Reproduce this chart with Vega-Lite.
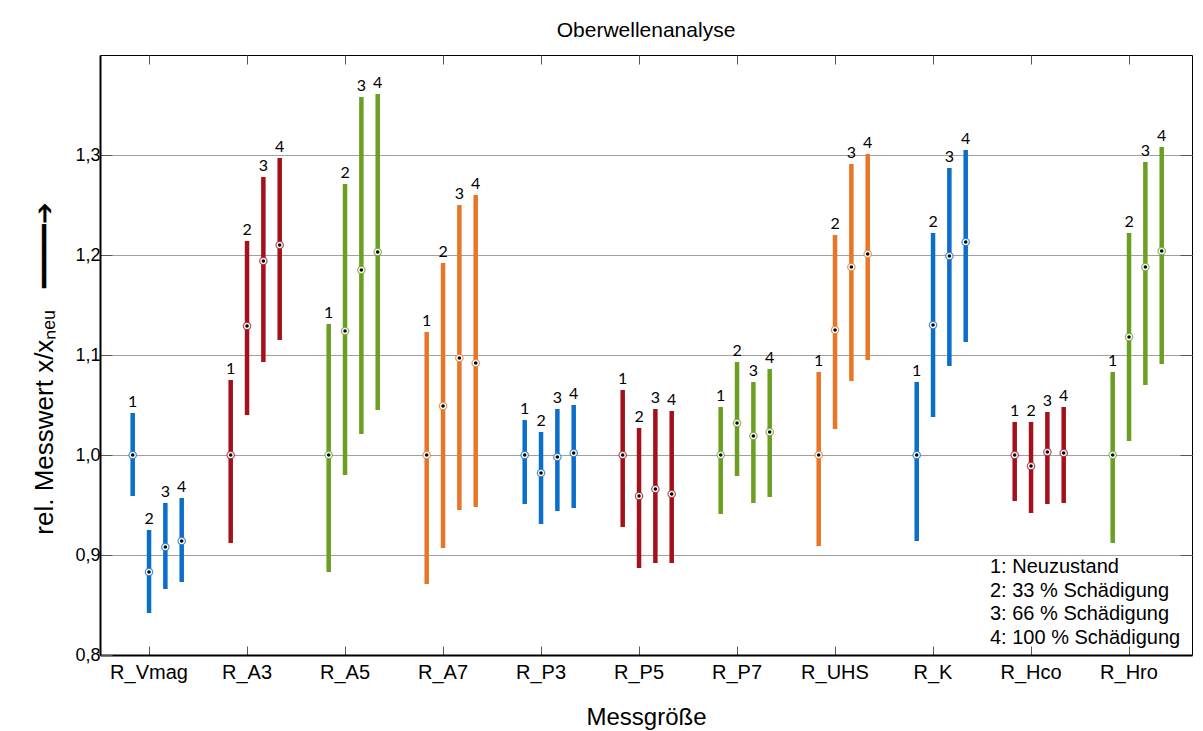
{
  "$schema": "https://vega.github.io/schema/vega-lite/v6.json",
  "width": 1092,
  "height": 600,
  "autosize": {"type": "none"},
  "padding": {"left": 100, "top": 55, "right": 11, "bottom": 76},
  "background": "white",
  "title": {"text": "Oberwellenanalyse", "font": "Liberation Sans", "fontSize": 21, "fontWeight": "normal", "color": "#000", "anchor": "middle", "offset": 14, "frame": "group"},
  "config": {"view": {"stroke": "#000", "strokeWidth": 1}, "font": "Liberation Sans"},
  "data": {"values": [
    {"g": "R_Vmag", "z": "1", "lo": 0.959, "hi": 1.042, "m": 1.0},
    {"g": "R_Vmag", "z": "2", "lo": 0.842, "hi": 0.925, "m": 0.883},
    {"g": "R_Vmag", "z": "3", "lo": 0.866, "hi": 0.952, "m": 0.908},
    {"g": "R_Vmag", "z": "4", "lo": 0.873, "hi": 0.957, "m": 0.914},
    {"g": "R_A3", "z": "1", "lo": 0.912, "hi": 1.075, "m": 1.0},
    {"g": "R_A3", "z": "2", "lo": 1.040, "hi": 1.214, "m": 1.129},
    {"g": "R_A3", "z": "3", "lo": 1.093, "hi": 1.278, "m": 1.194},
    {"g": "R_A3", "z": "4", "lo": 1.115, "hi": 1.297, "m": 1.210},
    {"g": "R_A5", "z": "1", "lo": 0.883, "hi": 1.131, "m": 1.0},
    {"g": "R_A5", "z": "2", "lo": 0.980, "hi": 1.271, "m": 1.124},
    {"g": "R_A5", "z": "3", "lo": 1.021, "hi": 1.358, "m": 1.185},
    {"g": "R_A5", "z": "4", "lo": 1.045, "hi": 1.361, "m": 1.203},
    {"g": "R_A7", "z": "1", "lo": 0.871, "hi": 1.123, "m": 1.0},
    {"g": "R_A7", "z": "2", "lo": 0.907, "hi": 1.192, "m": 1.049},
    {"g": "R_A7", "z": "3", "lo": 0.945, "hi": 1.250, "m": 1.097},
    {"g": "R_A7", "z": "4", "lo": 0.948, "hi": 1.260, "m": 1.092},
    {"g": "R_P3", "z": "1", "lo": 0.951, "hi": 1.035, "m": 1.0},
    {"g": "R_P3", "z": "2", "lo": 0.931, "hi": 1.023, "m": 0.982},
    {"g": "R_P3", "z": "3", "lo": 0.944, "hi": 1.046, "m": 0.998},
    {"g": "R_P3", "z": "4", "lo": 0.947, "hi": 1.050, "m": 1.002},
    {"g": "R_P5", "z": "1", "lo": 0.928, "hi": 1.065, "m": 1.0},
    {"g": "R_P5", "z": "2", "lo": 0.887, "hi": 1.027, "m": 0.959},
    {"g": "R_P5", "z": "3", "lo": 0.892, "hi": 1.046, "m": 0.966},
    {"g": "R_P5", "z": "4", "lo": 0.892, "hi": 1.044, "m": 0.961},
    {"g": "R_P7", "z": "1", "lo": 0.941, "hi": 1.048, "m": 1.0},
    {"g": "R_P7", "z": "2", "lo": 0.979, "hi": 1.093, "m": 1.032},
    {"g": "R_P7", "z": "3", "lo": 0.952, "hi": 1.073, "m": 1.019},
    {"g": "R_P7", "z": "4", "lo": 0.958, "hi": 1.086, "m": 1.023},
    {"g": "R_UHS", "z": "1", "lo": 0.909, "hi": 1.083, "m": 1.0},
    {"g": "R_UHS", "z": "2", "lo": 1.026, "hi": 1.220, "m": 1.125},
    {"g": "R_UHS", "z": "3", "lo": 1.074, "hi": 1.291, "m": 1.188},
    {"g": "R_UHS", "z": "4", "lo": 1.095, "hi": 1.301, "m": 1.201},
    {"g": "R_K", "z": "1", "lo": 0.914, "hi": 1.073, "m": 1.0},
    {"g": "R_K", "z": "2", "lo": 1.038, "hi": 1.222, "m": 1.130},
    {"g": "R_K", "z": "3", "lo": 1.089, "hi": 1.287, "m": 1.199},
    {"g": "R_K", "z": "4", "lo": 1.113, "hi": 1.305, "m": 1.213},
    {"g": "R_Hco", "z": "1", "lo": 0.954, "hi": 1.033, "m": 1.0},
    {"g": "R_Hco", "z": "2", "lo": 0.942, "hi": 1.033, "m": 0.989},
    {"g": "R_Hco", "z": "3", "lo": 0.951, "hi": 1.043, "m": 1.003},
    {"g": "R_Hco", "z": "4", "lo": 0.952, "hi": 1.048, "m": 1.002},
    {"g": "R_Hro", "z": "1", "lo": 0.912, "hi": 1.083, "m": 1.0},
    {"g": "R_Hro", "z": "2", "lo": 1.014, "hi": 1.222, "m": 1.118},
    {"g": "R_Hro", "z": "3", "lo": 1.070, "hi": 1.293, "m": 1.188},
    {"g": "R_Hro", "z": "4", "lo": 1.091, "hi": 1.308, "m": 1.204}
  ]},
  "layer": [
    {
      "mark": {"type": "rule", "strokeWidth": 4.5},
      "encoding": {
        "x": {"field": "g", "type": "nominal", "sort": null,
          "scale": {"domain": ["R_Vmag", "R_A3", "R_A5", "R_A7", "R_P3", "R_P5", "R_P7", "R_UHS", "R_K", "R_Hco", "R_Hro"], "paddingInner": 0, "paddingOuter": 0.0714, "align": 0},
          "axis": {"orient": "bottom", "title": "Messgröße", "labelAngle": 0, "labelFont": "Liberation Sans", "labelFontSize": 20, "labelColor": "#000", "labelPadding": 16, "titleFont": "Liberation Sans", "titleFontSize": 24, "titleFontWeight": "normal", "titleColor": "#000", "titlePadding": 23, "tickSize": -9, "tickColor": "#555", "domainColor": "#000", "domainWidth": 2, "grid": false}},
        "xOffset": {"field": "z", "type": "nominal", "scale": {"type": "point", "domain": ["1", "2", "3", "4"], "range": [32.7, 81.7], "padding": 0}},
        "y": {"field": "lo", "type": "quantitative",
          "scale": {"domain": [0.8, 1.4], "nice": false, "zero": false},
          "axis": {"orient": "left", "title": "rel. Messwert x/xₙₑᵤ\u00a0\u00a0\u00a0━━━━➔", "values": [0.8, 0.9, 1.0, 1.1, 1.2, 1.3], "labelExpr": "replace(format(datum.value, '.1f'), '.', ',')", "labelFont": "Liberation Sans", "labelFontSize": 18, "labelColor": "#000", "labelPadding": 12, "titleFont": "Liberation Sans", "titleFontSize": 26, "titleFontWeight": "normal", "titleColor": "#000", "titleAngle": 270, "titleAlign": "center", "titleBaseline": "alphabetic", "titleX": -48, "titleY": 313, "grid": true, "gridColor": "#A0A0A0", "gridWidth": 1, "tickSize": -12, "tickColor": "#555", "domainColor": "#000", "domainWidth": 2}},
        "y2": {"field": "hi"},
        "color": {"field": "g", "type": "nominal", "scale": {"domain": ["R_Vmag", "R_A3", "R_A5", "R_A7", "R_P3", "R_P5", "R_P7", "R_UHS", "R_K", "R_Hco", "R_Hro"], "range": ["#0A6ECA", "#A3111B", "#6B9F22", "#E97628", "#0A6ECA", "#A3111B", "#6B9F22", "#E97628", "#0A6ECA", "#A3111B", "#6B9F22"]}, "legend": null}
      }
    },
    {
      "mark": {"type": "point", "filled": true, "fill": "white", "size": 55, "strokeWidth": 1.2, "strokeOpacity": 0.75, "opacity": 1},
      "encoding": {
        "x": {"field": "g", "type": "nominal", "sort": null,
          "axis": {"orient": "top", "title": null, "labels": false, "tickSize": -9, "tickColor": "#555", "domain": false, "grid": false}},
        "xOffset": {"field": "z", "type": "nominal"},
        "y": {"field": "m", "type": "quantitative",
          "axis": {"orient": "right", "title": null, "labels": false, "values": [0.9, 1.0, 1.1, 1.2, 1.3], "tickSize": -12, "tickColor": "#555", "domain": false, "grid": false}},
        "stroke": {"field": "g", "type": "nominal", "scale": {"domain": ["R_Vmag", "R_A3", "R_A5", "R_A7", "R_P3", "R_P5", "R_P7", "R_UHS", "R_K", "R_Hco", "R_Hro"], "range": ["#0A6ECA", "#A3111B", "#6B9F22", "#E97628", "#0A6ECA", "#A3111B", "#6B9F22", "#E97628", "#0A6ECA", "#A3111B", "#6B9F22"]}, "legend": null},
        "shape": {"field": "z", "type": "nominal", "scale": {"domain": ["1", "2", "3", "4"], "range": ["circle", "circle", "circle", "circle"]},
          "legend": {"title": null, "orient": "none", "legendX": 870, "legendY": 502, "padding": 0, "labelFont": "Liberation Sans", "labelFontSize": 20, "labelColor": "#000", "labelLimit": 400, "labelOffset": 0, "symbolSize": 0, "symbolOpacity": 0, "symbolStrokeWidth": 0, "rowPadding": 3.5,
            "labelExpr": "{'1': '1: Neuzustand', '2': '2: 33 % Schädigung', '3': '3: 66 % Schädigung', '4': '4: 100 % Schädigung'}[datum.label]"}}
      }
    },
    {
      "mark": {"type": "circle", "size": 13, "color": "#000", "opacity": 1},
      "encoding": {
        "x": {"field": "g", "type": "nominal", "sort": null, "axis": null},
        "xOffset": {"field": "z", "type": "nominal"},
        "y": {"field": "m", "type": "quantitative", "axis": null}
      }
    },
    {
      "mark": {"type": "text", "font": "Lato", "fontSize": 16, "color": "#000", "baseline": "alphabetic", "align": "center", "dy": -6},
      "encoding": {
        "x": {"field": "g", "type": "nominal", "sort": null, "axis": null},
        "xOffset": {"field": "z", "type": "nominal"},
        "y": {"field": "hi", "type": "quantitative", "axis": null},
        "text": {"field": "z", "type": "nominal"}
      }
    }
  ],
  "resolve": {"axis": {"x": "independent", "y": "independent"}}
}
